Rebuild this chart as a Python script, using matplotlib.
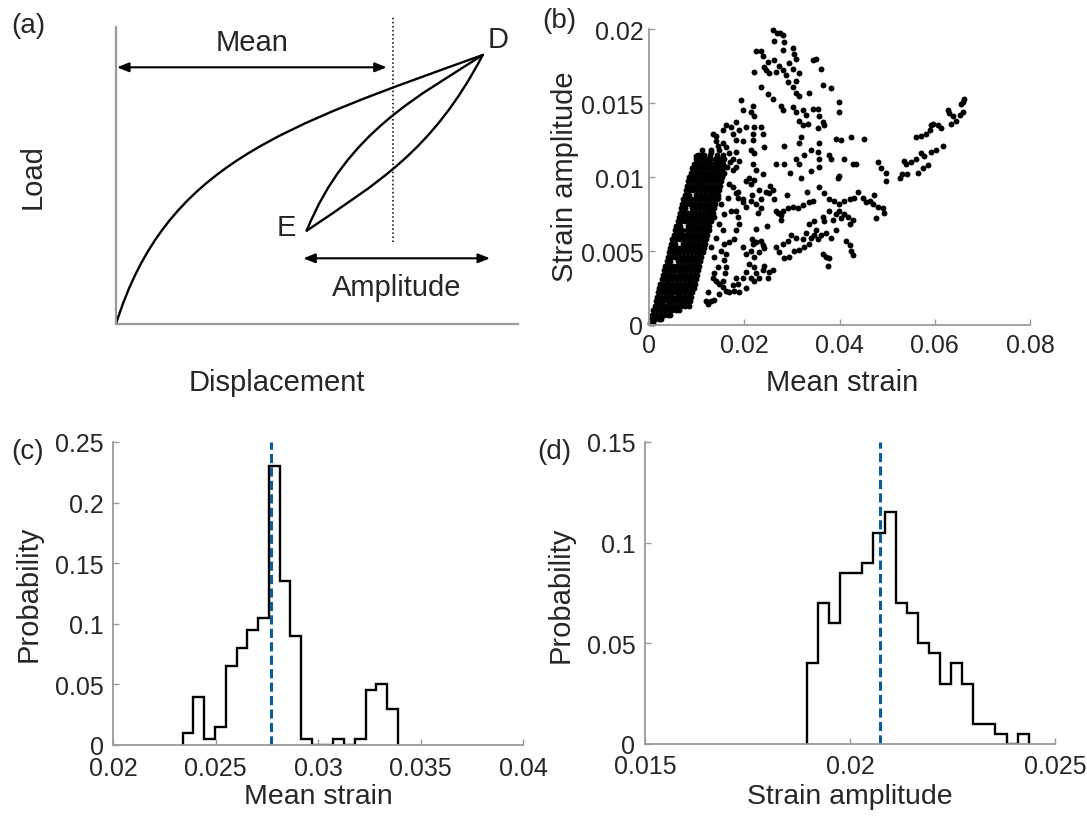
import matplotlib.pyplot as plt
import numpy as np
from matplotlib.path import Path
from matplotlib.patches import PathPatch
from matplotlib.ticker import FuncFormatter

plt.rcParams['font.family'] = ['Liberation Sans', 'DejaVu Sans']

W, H = 1087, 820
axis_grey = '#9a9a9a'
text_col = '#262626'
mean_blue = '#0b5c99'

# ---- (a) schematic, drawing units ----
load_curve = [(0, 0), (50, 160), (166.7, 197), (366.7, 269)]       # cubic bezier
upper_branch = [(190.7, 93.3), (230.7, 193.3), (306.7, 230), (366.7, 269)]
lower_branch = [(190.7, 93.3), (260.7, 140.9), (316.7, 173), (366.7, 269)]
point_D = (366.7, 269)
point_E = (190.7, 93.3)
mean_x = 277.3

# ---- (b) scatter, strain in 1e-3 units ----
# dense wedge near the origin, read row by row: (amplitude, [mean strains])
wedge_rows = [
    (0.15, [0.2, 0.8]),
    (0.4, [0.4, 1.2, 2.0, 2.5]),
    (0.7, [0.7, 1.5, 2.3, 3.1, 3.9, 4.5]),
    (1.0, [0.9, 1.7, 2.5, 3.3, 4.1, 4.9, 5.7, 6.4]),
    (1.3, [1.2, 2.0, 2.8, 3.6, 4.4, 5.2, 6.0, 6.8, 7.6, 8.4]),
    (1.6, [1.4, 2.2, 3.0, 3.9, 4.7, 5.5, 6.3, 7.1, 7.9, 8.6]),
    (1.9, [1.7, 2.5, 3.3, 4.1, 4.9, 5.8, 6.6, 7.4, 8.2, 8.9]),
    (2.2, [1.9, 2.7, 3.5, 4.4, 5.2, 6.0, 6.8, 7.6, 8.4, 9.1]),
    (2.5, [2.2, 3.0, 3.8, 4.6, 5.4, 6.2, 7.0, 7.9, 8.7, 9.4]),
    (2.8, [2.4, 3.2, 4.0, 4.8, 5.7, 6.5, 7.3, 8.1, 8.9, 9.6]),
    (3.1, [2.7, 3.5, 4.3, 5.1, 5.9, 6.7, 7.5, 8.3, 9.1, 9.8]),
    (3.4, [2.9, 3.7, 4.5, 5.3, 6.2, 7.0, 7.8, 8.6, 9.4, 10.1]),
    (3.7, [3.2, 4.0, 4.8, 5.6, 6.4, 7.2, 8.0, 8.8, 9.6, 10.3]),
    (4.0, [3.4, 4.2, 5.0, 5.8, 6.7, 7.5, 8.3, 9.1, 9.9, 10.6]),
    (4.3, [3.7, 4.5, 6.1, 6.9, 7.7, 8.5, 9.3, 10.1, 10.8]),
    (4.6, [3.9, 4.7, 5.5, 6.3, 7.2, 8.0, 8.8, 9.6, 10.4, 11.0]),
    (4.9, [4.2, 5.0, 5.8, 6.6, 7.4, 8.2, 9.0, 9.8, 10.6, 11.3]),
    (5.2, [4.4, 5.2, 6.0, 6.8, 7.7, 8.5, 9.3, 10.1, 10.9, 11.5]),
    (5.5, [4.7, 5.5, 7.1, 7.9, 8.7, 9.5, 10.3, 11.1, 11.8]),
    (5.8, [4.9, 5.7, 6.5, 7.4, 8.2, 9.0, 9.8, 10.6, 11.4, 12.0]),
    (6.1, [5.2, 6.0, 6.8, 7.6, 8.4, 9.2, 10.0, 10.8, 11.6, 12.2]),
    (6.4, [5.4, 6.2, 7.0, 7.9, 8.7, 9.5, 10.3, 11.1, 11.9, 12.5]),
    (6.7, [5.7, 6.5, 8.1, 8.9, 9.7, 10.5, 11.3, 12.1, 12.7]),
    (7.0, [6.0, 6.8, 7.6, 8.4, 9.2, 10.0, 10.8, 11.6, 12.4, 13.0]),
    (7.3, [6.2, 7.0, 7.8, 8.6, 9.4, 10.2, 11.0, 11.8, 12.6, 13.2]),
    (7.6, [6.5, 7.3, 8.1, 8.9, 9.7, 10.5, 11.3, 12.1, 12.9, 13.4]),
    (7.9, [6.7, 7.5, 9.1, 9.9, 10.7, 11.5, 12.3, 13.1, 13.7]),
    (8.2, [7.0, 7.8, 8.6, 9.4, 10.2, 11.0, 11.8, 12.6, 13.4, 13.9]),
    (8.5, [7.2, 8.0, 8.8, 9.6, 10.5, 11.3, 12.1, 12.9, 13.7, 14.2]),
    (8.8, [7.5, 8.3, 9.9, 10.7, 11.5, 12.3, 13.1, 13.9, 14.4]),
    (9.1, [7.7, 8.5, 9.3, 10.1, 10.9, 11.7, 12.5, 13.3, 14.1, 14.6]),
    (9.4, [8.0, 8.8, 9.6, 10.4, 11.2, 12.0, 12.8, 13.6, 14.4, 14.9]),
    (9.7, [8.2, 9.0, 9.8, 10.6, 11.4, 12.2, 13.0, 13.8, 14.6, 15.1]),
    (10.0, [8.5, 9.3, 10.1, 10.9, 11.7, 12.5, 13.3, 14.1, 14.9, 15.4]),
    (10.3, [8.8, 9.6, 10.4, 11.2, 12.0, 12.8, 13.6, 14.4, 15.2, 15.7]),
    (10.6, [9.1, 9.9, 10.8, 11.6, 12.4, 13.2, 14.0, 14.8, 15.6]),
    (10.9, [9.4, 10.3, 11.2, 12.1, 13.0, 13.9, 14.8, 15.6]),
    (11.2, [9.8, 10.8, 11.8, 12.9, 13.9, 14.9, 15.8]),
    (11.5, [10.3, 11.5, 12.8, 14.2, 15.6]),
    (11.8, [11.2, 13.0, 14.8]),
]

# sparse points, (mean strain, strain amplitude)
upper_cloud = [
    (26.0, 19.9), (26.9, 19.7), (27.6, 19.7), (28.1, 19.6), (26.3, 19.2), (28.4, 19.1),
    (30.2, 18.7), (22.5, 18.5), (23.5, 18.5), (23.9, 18.2), (28.1, 18.6), (30.5, 18.3),
    (30.9, 18.0), (29.5, 17.7), (27.4, 17.5), (26.3, 17.9), (24.9, 17.8), (24.2, 17.4),
    (24.6, 17.2), (25.3, 17.0), (26.7, 17.1), (28.1, 17.2), (28.8, 16.9), (30.2, 17.3),
    (31.6, 17.0), (30.9, 16.5), (29.1, 16.4), (30.2, 16.1), (30.9, 15.7), (31.6, 15.5),
    (33.7, 15.7), (34.4, 17.9), (23.5, 16.1), (24.9, 15.6), (22.1, 17.1), (26.0, 15.3),
    (27.7, 14.8), (28.1, 14.5), (30.2, 14.7), (30.9, 14.4), (32.3, 14.5), (33.0, 14.2),
    (34.4, 14.6), (31.6, 13.8), (32.3, 13.5), (33.3, 13.6), (19.3, 15.2), (21.8, 14.8),
    (21.4, 14.4), (22.1, 14.1), (19.7, 14.5), (18.3, 13.7), (17.2, 13.4), (16.2, 13.5),
    (15.5, 13.2), (14.1, 12.8), (13.4, 12.9), (17.6, 12.9), (19.0, 13.2), (20.4, 13.4),
    (22.1, 13.4), (23.5, 13.4), (23.9, 12.9), (21.8, 12.9), (18.3, 12.5), (19.7, 12.4),
    (21.8, 12.5), (15.5, 12.3), (16.2, 12.0), (14.4, 12.1), (16.9, 11.6), (18.3, 11.7),
    (17.6, 11.2), (19.0, 11.1), (21.4, 11.8), (22.1, 11.6), (24.2, 12.0), (21.8, 10.9),
    (22.5, 10.5), (26.7, 10.9), (28.4, 10.9), (28.4, 12.1), (31.6, 12.3), (31.9, 12.7),
    (32.6, 11.5), (34.0, 11.8), (31.6, 10.9), (34.0, 10.4), (23.9, 10.2), (9.9, 11.4),
    (10.9, 11.5), (11.3, 11.1), (12.3, 11.2), (13.4, 10.9), (14.8, 11.1), (16.3, 10.7),
    (17.0, 11.0), (17.6, 10.5), (18.3, 10.7), (14.1, 10.2), (15.5, 10.2), (13.0, 11.7),
    (14.1, 12.4), (29.7, 10.3), (30.9, 11.2), (32.0, 9.9),
]
right_cloud = [
    (35.1, 18.0), (36.1, 17.3), (36.5, 16.2), (38.2, 16.0), (39.8, 15.1), (39.9, 14.4),
    (35.4, 14.6), (35.8, 14.1), (36.5, 13.7), (36.8, 13.5), (35.4, 13.3), (39.3, 12.6),
    (40.3, 12.5), (42.4, 12.7), (45.2, 12.6), (35.8, 12.3), (35.4, 11.7), (35.8, 11.2),
    (37.9, 11.5), (38.2, 11.2), (41.0, 11.2), (42.8, 10.9), (43.5, 10.9), (35.8, 10.7),
    (39.9, 10.1), (48.0, 11.0), (48.7, 10.6), (49.8, 10.3), (53.6, 11.1), (54.0, 10.9),
    (55.0, 11.0), (56.1, 11.2), (57.1, 11.6), (57.8, 11.4), (59.2, 11.7), (60.2, 11.8),
    (61.7, 12.1), (53.2, 10.2), (54.2, 10.2), (56.4, 10.3), (57.5, 10.6), (58.5, 10.8),
    (56.1, 12.7), (57.1, 12.8), (58.2, 12.9), (58.9, 13.2), (59.2, 13.5), (59.6, 13.6),
    (60.6, 13.5), (61.3, 13.3), (62.7, 14.5), (63.0, 14.3), (63.8, 14.1), (63.4, 13.6),
    (64.5, 13.8), (65.2, 14.2), (65.9, 14.4), (65.5, 14.9), (66.2, 15.3), (65.9, 15.1),
]
lower_cloud = [
    (15.8, 5.5), (16.2, 4.8), (15.8, 4.4), (16.2, 3.9), (16.0, 3.5), (15.6, 3.0),
    (17.6, 9.3), (18.3, 8.9), (18.6, 8.6), (18.3, 7.7), (18.6, 7.3), (19.0, 6.8),
    (18.3, 6.4), (19.7, 8.3), (21.4, 8.4), (20.4, 8.0), (23.2, 9.1), (24.6, 9.0),
    (25.3, 8.9), (26.0, 9.1), (22.5, 8.2), (23.5, 7.9), (26.7, 7.7), (20.4, 9.7),
    (21.4, 9.5), (22.1, 9.8), (28.1, 7.7), (29.1, 7.9), (30.2, 8.0), (31.2, 7.9),
    (32.3, 8.1), (33.7, 8.3), (34.4, 8.4), (27.7, 7.1), (33.7, 6.8), (34.7, 7.0),
    (17.9, 5.8), (16.9, 5.6), (19.7, 5.3), (21.8, 5.5), (22.5, 5.6), (23.5, 5.7),
    (23.9, 5.4), (24.2, 5.2), (23.2, 4.9), (22.1, 4.6), (21.4, 5.0), (20.4, 4.8),
    (24.2, 4.0), (23.9, 3.7), (26.7, 5.3), (28.1, 5.5), (29.1, 5.7), (29.8, 6.1),
    (30.9, 5.9), (32.3, 5.8), (33.0, 6.2), (34.0, 5.9), (34.7, 6.1), (27.4, 4.9),
    (28.4, 4.5), (29.5, 4.6), (30.5, 5.0), (31.6, 5.1), (32.6, 5.3), (33.7, 5.5),
    (21.1, 4.1), (22.1, 3.9), (22.5, 3.5), (23.2, 3.2), (21.4, 3.2), (22.1, 3.0),
    (20.4, 3.6), (19.7, 3.2), (18.3, 3.2), (18.6, 2.8), (25.3, 3.6), (26.0, 3.7),
    (24.9, 3.2), (13.4, 3.2), (14.1, 3.0), (14.8, 2.8), (13.7, 3.5), (15.5, 2.6),
    (16.2, 2.3), (16.9, 2.2), (17.9, 2.3), (17.6, 2.7), (14.8, 2.1), (12.3, 2.2),
    (12.0, 1.6), (12.3, 1.4), (13.0, 1.6), (13.7, 1.7), (19.0, 2.2), (20.4, 2.5),
    (13.4, 9.1), (14.4, 8.6), (15.1, 8.2), (13.7, 7.3), (14.8, 6.8), (15.8, 7.5),
    (15.5, 6.4), (14.1, 5.9), (13.0, 5.3), (13.7, 4.6), (15.1, 5.0), (14.4, 3.9),
    (16.9, 9.5), (16.5, 8.6), (17.2, 7.7), (18.7, 9.0), (19.8, 8.5), (21.0, 9.9),
    (21.7, 8.8), (22.9, 7.6), (23.6, 8.5), (25.5, 9.4), (26.3, 8.5), (27.0, 7.6),
    (29.0, 8.8), (33.1, 9.0), (22.5, 6.5), (21.7, 5.8), (24.8, 6.7), (27.8, 7.4),
    (39.6, 9.9), (49.8, 9.7), (52.6, 9.9), (35.8, 9.3), (36.8, 8.9), (37.9, 8.5),
    (38.9, 8.4), (39.9, 8.2), (40.9, 8.4), (42.1, 8.5), (43.1, 8.6), (43.8, 9.0),
    (44.9, 8.6), (45.6, 8.3), (46.3, 8.4), (47.3, 8.8), (47.0, 8.2), (48.0, 8.0),
    (49.1, 7.9), (49.4, 7.6), (39.9, 7.7), (41.0, 7.5), (41.7, 7.3), (42.8, 7.1),
    (42.1, 6.8), (39.3, 7.5), (37.9, 7.7), (36.5, 7.3), (36.8, 7.0), (38.6, 7.1),
    (40.3, 7.2), (47.7, 7.2), (35.1, 6.4), (36.1, 6.1), (37.2, 6.2), (38.2, 5.9),
    (39.3, 6.4), (35.4, 5.8), (41.3, 5.7), (42.1, 5.4), (42.4, 5.0), (42.8, 4.7),
    (36.5, 4.8), (37.2, 4.6), (37.9, 4.5), (37.5, 4.0),
]

# ---- (c) and (d) histograms ----
c_first_edge, c_last_edge = 0.0234, 0.0339
c_prob = [0.01, 0.04, 0.005, 0.015, 0.065, 0.08, 0.095, 0.105, 0.23, 0.135,
          0.09, 0.005, 0, 0, 0.005, 0, 0.005, 0.045, 0.05, 0.03]
c_mean = 0.0277

d_first_edge, d_last_edge = 0.01895, 0.02436
d_prob = [0.04, 0.07, 0.06, 0.085, 0.085, 0.09, 0.105, 0.115, 0.07, 0.065,
          0.05, 0.045, 0.03, 0.04, 0.03, 0.01, 0.01, 0.005, 0, 0.005]
d_mean = 0.02074


def axes_px(left, top, right, bottom):
    return fig.add_axes([left / W, 1 - bottom / H, (right - left) / W, (bottom - top) / H])


def fig_text(px, py, s, **kw):
    fig.text(px / W, 1 - py / H, s, ha='center', va='center', color=text_col, **kw)


def matlab_style(ax, xticks, yticks, xpad, ypad):
    for side in ['top', 'right']:
        ax.spines[side].set_visible(False)
    for side in ['left', 'bottom']:
        ax.spines[side].set_color(axis_grey)
        ax.spines[side].set_linewidth(1.3)
    ax.tick_params(direction='in', length=4, width=1, color=axis_grey,
                   labelsize=18, labelcolor=text_col)
    ax.tick_params(axis='x', pad=xpad)
    ax.tick_params(axis='y', pad=ypad)
    ax.set_xticks(xticks)
    ax.set_yticks(yticks)
    fmt = FuncFormatter(lambda v, _: f'{v:g}')
    ax.xaxis.set_major_formatter(fmt)
    ax.yaxis.set_major_formatter(fmt)


fig = plt.figure(figsize=(W / 100, H / 100), dpi=100)

# (a)
ax = axes_px(116, 28, 518, 325)
ax.set_xlim(0, 402)
ax.set_ylim(0, 297)
ax.set_xticks([])
ax.set_yticks([])
for side in ['top', 'right']:
    ax.spines[side].set_visible(False)
for side in ['left', 'bottom']:
    ax.spines[side].set_color(axis_grey)
    ax.spines[side].set_linewidth(1.6)
cubic = [Path.MOVETO, Path.CURVE4, Path.CURVE4, Path.CURVE4]
for pts in [load_curve, upper_branch, lower_branch]:
    ax.add_patch(PathPatch(Path(pts, cubic), fill=False, lw=1.7, ec='k', capstyle='round'))
ax.plot([mean_x, mean_x], [82, 307], ls=':', color='k', lw=1.1, clip_on=False)
arrow = dict(arrowstyle='<|-|>,head_length=0.7,head_width=0.28', color='k', lw=1.5,
             mutation_scale=10, shrinkA=0, shrinkB=0)
ax.annotate('', xy=(270.7, 256.7), xytext=(1, 256.7), arrowprops=arrow)
ax.annotate('', xy=(374, 65.7), xytext=(187.3, 65.7), arrowprops=arrow, annotation_clip=False)
ax.text(135.7, 281.7, 'Mean', fontsize=21, ha='center', va='center', color=text_col)
ax.text(280.7, 36.7, 'Amplitude', fontsize=21, ha='center', va='center', color=text_col)
ax.text(point_D[0] + 15.6, point_D[1] + 16, 'D', fontsize=21, ha='center', va='center', color=text_col)
ax.text(point_E[0] - 20, point_E[1] + 3.4, 'E', fontsize=21, ha='center', va='center', color=text_col)

# (b)
ax = axes_px(649, 30, 1030, 326)
pts = [(x, y) for y, xs in wedge_rows for x in xs] + upper_cloud + right_cloud + lower_cloud
pts = np.array(pts) / 1000
ax.scatter(pts[:, 0], pts[:, 1], s=18, c='k', linewidths=0, clip_on=False)
ax.set_xlim(0, 0.08)
ax.set_ylim(0, 0.02)
matlab_style(ax, [0, 0.02, 0.04, 0.06, 0.08], [0, 0.005, 0.01, 0.015, 0.02], 6, 4)

# (c)
ax = axes_px(113, 443, 523, 746)
ax.stairs(c_prob, np.linspace(c_first_edge, c_last_edge, len(c_prob) + 1),
          baseline=0, color='k', lw=1.7)
ax.plot([c_mean, c_mean], [0, 0.25], color=mean_blue, lw=2.2, ls=(0, (3, 1.4)))
ax.set_xlim(0.02, 0.04)
ax.set_ylim(0, 0.25)
matlab_style(ax, [0.02, 0.025, 0.03, 0.035, 0.04], [0, 0.05, 0.1, 0.15, 0.2, 0.25], 8, 6.5)

# (d)
ax = axes_px(645, 443, 1055, 745)
ax.stairs(d_prob, np.linspace(d_first_edge, d_last_edge, len(d_prob) + 1),
          baseline=0, color='k', lw=1.7)
ax.plot([d_mean, d_mean], [0, 0.15], color=mean_blue, lw=2.2, ls=(0, (3, 1.4)))
ax.set_xlim(0.015, 0.025)
ax.set_ylim(0, 0.15)
matlab_style(ax, [0.015, 0.02, 0.025], [0, 0.05, 0.1, 0.15], 7.5, 7)

# labels
fig_text(28.5, 26, '(a)', fontsize=20)
fig_text(559, 21, '(b)', fontsize=20)
fig_text(28, 452, '(c)', fontsize=20)
fig_text(554, 452, '(d)', fontsize=20)
fig_text(33, 177, 'Load', fontsize=21, rotation=90)
fig_text(277, 383, 'Displacement', fontsize=21)
fig_text(565, 177, 'Strain amplitude', fontsize=21, rotation=90)
fig_text(842, 383, 'Mean strain', fontsize=21)
fig_text(29, 594, 'Probability', fontsize=21, rotation=90)
fig_text(318, 797, 'Mean strain', fontsize=20.5)
fig_text(561, 595, 'Probability', fontsize=21, rotation=90)
fig_text(850, 797, 'Strain amplitude', fontsize=20.5)

fig.savefig('out.png', dpi=100)
